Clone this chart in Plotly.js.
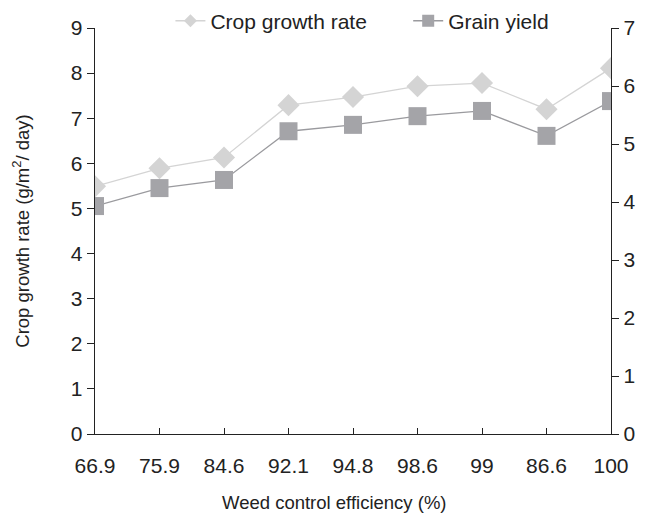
<!DOCTYPE html>
<html>
<head>
<meta charset="utf-8">
<script src="https://cdn.plot.ly/plotly-3.0.1.min.js"></script>
<style>html,body{margin:0;padding:0;background:#fff;}#chart{width:651px;height:516px;}</style>
</head>
<body>
<div id="chart"></div>
<script>
const categories = ["66.9", "75.9", "84.6", "92.1", "94.8", "98.6", "99", "86.6", "100"];
const cropGrowthRate = [5.49, 5.89, 6.13, 7.29, 7.47, 7.71, 7.78, 7.2, 8.11];
const grainYield = [3.93, 4.24, 4.38, 5.22, 5.33, 5.48, 5.57, 5.14, 5.74];
const leftTicks = [0, 1, 2, 3, 4, 5, 6, 7, 8, 9];
const rightTicks = [0, 1, 2, 3, 4, 5, 6, 7];
const seriesNames = ["Crop growth rate", "Grain yield"];

const font = "Liberation Sans, Arial, sans-serif";
const cropColor = "#d4d4d4";
const grainLine = "#9a9a9e";
const grainColor = "#a4a4a8";

const traces = [
  {
    x: categories, y: cropGrowthRate, name: seriesNames[0], showlegend: false,
    type: "scatter", mode: "lines+markers",
    line: {color: cropColor, width: 1.3},
    marker: {symbol: "diamond", size: 17, color: cropColor},
    yaxis: "y"
  },
  {
    x: categories, y: grainYield, name: seriesNames[1], showlegend: false,
    type: "scatter", mode: "lines+markers",
    line: {color: grainLine, width: 1.3},
    marker: {symbol: "square", size: 18, color: grainColor},
    yaxis: "y2"
  },
  // legend-only entries (smaller symbols, as in the reference legend)
  {
    x: [null], y: [null], name: seriesNames[0], showlegend: true, legend: "legend",
    type: "scatter", mode: "lines+markers",
    line: {color: cropColor, width: 1.3},
    marker: {symbol: "diamond", size: 10, color: cropColor}
  },
  {
    x: [null], y: [null], name: seriesNames[1], showlegend: true, legend: "legend2",
    type: "scatter", mode: "lines+markers", yaxis: "y2",
    line: {color: grainLine, width: 1.3},
    marker: {symbol: "square", size: 12, color: grainColor}
  }
];

const legendCommon = {
  orientation: "h", xanchor: "left", yanchor: "middle", y: 1.017,
  font: {family: font, size: 21, color: "#222"},
  bgcolor: "rgba(0,0,0,0)", itemclick: false
};

const layout = {
  width: 651, height: 516,
  margin: {l: 94.5, r: 40, t: 28, b: 82, autoexpand: false},
  paper_bgcolor: "#fff", plot_bgcolor: "#fff",
  font: {family: font, color: "#222", size: 21},
  showlegend: true,
  legend: Object.assign({}, legendCommon, {x: (170 - 94.5) / 516.5}),
  legend2: Object.assign({}, legendCommon, {x: (408 - 94.5) / 516.5}),
  xaxis: {
    type: "category", range: [0, 8],
    showline: true, linecolor: "#222", linewidth: 1.3,
    ticks: "inside", ticklen: 6, tickcolor: "#222", tickwidth: 1,
    showgrid: false, zeroline: false,
    tickfont: {family: font, size: 21, color: "#222"},
    ticklabelstandoff: 12
  },
  yaxis: {
    range: [0, 9], tickvals: leftTicks,
    showline: true, linecolor: "#222", linewidth: 1.3,
    ticks: "outside", ticklen: 7, tickcolor: "#222", tickwidth: 1,
    showgrid: false, zeroline: false,
    tickfont: {family: font, size: 21, color: "#222"},
    title: {text: "Crop growth rate (g/m<sup>2</sup>/ day)", font: {family: font, size: 18.5, color: "#222"}, standoff: 36}
  },
  yaxis2: {
    range: [0, 7], tickvals: rightTicks, overlaying: "y", side: "right",
    showline: true, linecolor: "#222", linewidth: 1.3,
    ticks: "outside", ticklen: 7, tickcolor: "#222", tickwidth: 1,
    showgrid: false, zeroline: false,
    tickfont: {family: font, size: 21, color: "#222"}
  },
  annotations: [
    {text: "Weed control efficiency (%)", xref: "paper", yref: "paper",
     x: (334 - 94.5) / 516.5, y: -0.1675, xanchor: "center", yanchor: "middle",
     showarrow: false, font: {family: font, size: 18.5, color: "#222"}}
  ]
};

Plotly.newPlot("chart", traces, layout, {displayModeBar: false, staticPlot: true});
</script>
</body>
</html>
